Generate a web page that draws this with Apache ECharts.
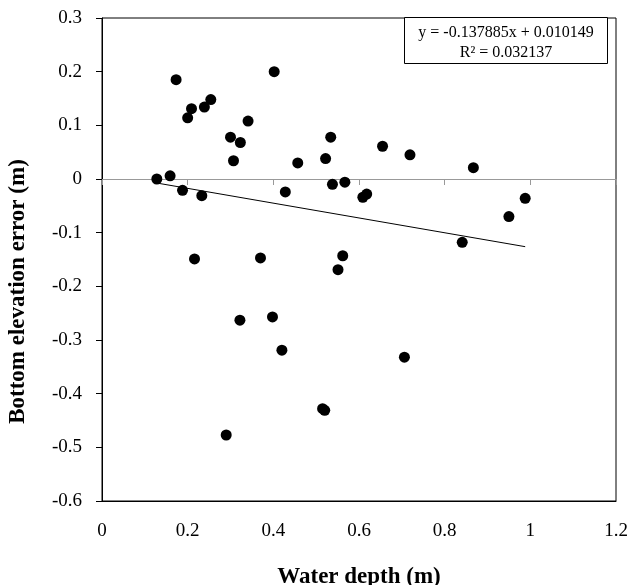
<!DOCTYPE html>
<html>
<body style="margin:0;">

<!-- chart container, same size as the window -->
<div id="depthError" style="width:631px; height:585px;"></div>

<script src="https://cdn.jsdelivr.net/npm/echarts@6.0.0/dist/echarts.min.js"></script>

<script>
  // Measured points: water depth (m) vs bottom elevation error (m)
  var waterDepth = [0.128, 0.159, 0.173, 0.188, 0.200, 0.209, 0.233, 0.239, 0.254, 0.300,
    0.307, 0.323, 0.341, 0.402, 0.428, 0.457, 0.522, 0.534, 0.538, 0.567,
    0.609, 0.618, 0.655, 0.719, 0.867, 0.988, 0.950, 0.841, 0.216, 0.370,
    0.562, 0.551, 0.322, 0.398, 0.420, 0.515, 0.520, 0.290, 0.706];
  var elevError = [0.000, 0.006, 0.185, -0.021, 0.114, 0.131, -0.031, 0.134, 0.148, 0.078,
    0.034, 0.068, 0.108, 0.200, -0.024, 0.030, 0.038, 0.078, -0.010, -0.006,
    -0.034, -0.028, 0.061, 0.045, 0.021, -0.036, -0.070, -0.118, -0.149, -0.147,
    -0.143, -0.169, -0.263, -0.257, -0.319, -0.428, -0.431, -0.477, -0.332];

  // Linear trend line end points (from the fitted equation)
  var trendX = [0.128, 0.988];
  var trendY = [-0.0075, -0.1261];

  var equationText = 'y = -0.137885x + 0.010149';
  var r2Text = 'R\u00b2 = 0.032137';

  var points = waterDepth.map(function (x, i) { return [x, elevError[i]]; });
  var trend = trendX.map(function (x, i) { return [x, trendY[i]]; });

  var font = 'Liberation Serif';

  var option = {
    animation: false,
    grid: {
      left: 102,
      top: 18,
      right: 15,
      bottom: 84,
      containLabel: false,
      outerBoundsMode: 'none',
      show: true,
      borderColor: '#000',
      borderWidth: 1
    },
    xAxis: [{
      type: 'value',
      min: 0,
      max: 1.2,
      interval: 0.2,
      position: 'bottom',
      name: 'Water depth (m)',
      nameLocation: 'middle',
      nameGap: 58,
      nameTextStyle: {
        fontFamily: font,
        fontSize: 23,
        fontWeight: 'bold',
        color: '#000'
      },
      axisLine: { onZero: false, lineStyle: { color: '#000', width: 1 } },
      axisTick: { show: false },
      axisLabel: {
        margin: 16,
        fontFamily: font,
        fontSize: 19,
        color: '#000'
      },
      splitLine: { show: false }
    }, {
      // zero line with small ticks, Excel style
      type: 'value',
      min: 0,
      max: 1.2,
      interval: 0.2,
      position: 'top',
      axisLine: { onZero: true, lineStyle: { color: '#999', width: 1 } },
      axisTick: { show: true, inside: true, length: 6, lineStyle: { color: '#999' } },
      axisLabel: { show: false },
      splitLine: { show: false }
    }],
    yAxis: {
      type: 'value',
      min: -0.6,
      max: 0.3,
      interval: 0.1,
      name: 'Bottom elevation error (m)',
      nameLocation: 'middle',
      nameGap: 66,
      nameTextStyle: {
        fontFamily: font,
        fontSize: 23,
        fontWeight: 'bold',
        color: '#000',
        // title sits a bit below the plot centre
        padding: [0, 0, 0, -64]
      },
      axisLine: { show: true, lineStyle: { color: '#000', width: 1 } },
      axisTick: { show: true, length: 6, lineStyle: { color: '#000' } },
      axisLabel: {
        margin: 20,
        fontFamily: font,
        fontSize: 19,
        color: '#000'
      },
      splitLine: { show: false }
    },
    series: [{
      type: 'scatter',
      xAxisIndex: 0,
      symbol: 'circle',
      symbolSize: 11,
      itemStyle: { color: '#000', opacity: 1 },
      data: points,
      z: 3
    }, {
      type: 'line',
      xAxisIndex: 0,
      data: trend,
      symbol: 'none',
      lineStyle: { color: '#000', width: 1 },
      z: 2
    }],
    graphic: [{
      type: 'group',
      left: 404,
      top: 17,
      children: [{
        type: 'rect',
        shape: { x: 0, y: 0, width: 203, height: 46 },
        style: { fill: '#fff', stroke: '#000', lineWidth: 1 }
      }, {
        type: 'text',
        x: 101.5,
        y: 5,
        style: {
          text: equationText + '\n' + r2Text,
          fontFamily: font,
          fontSize: 16,
          lineHeight: 20,
          align: 'center',
          fill: '#000'
        }
      }]
    }]
  };

  var chart = echarts.init(document.getElementById('depthError'));
  chart.setOption(option);
</script>
</body>
</html>
